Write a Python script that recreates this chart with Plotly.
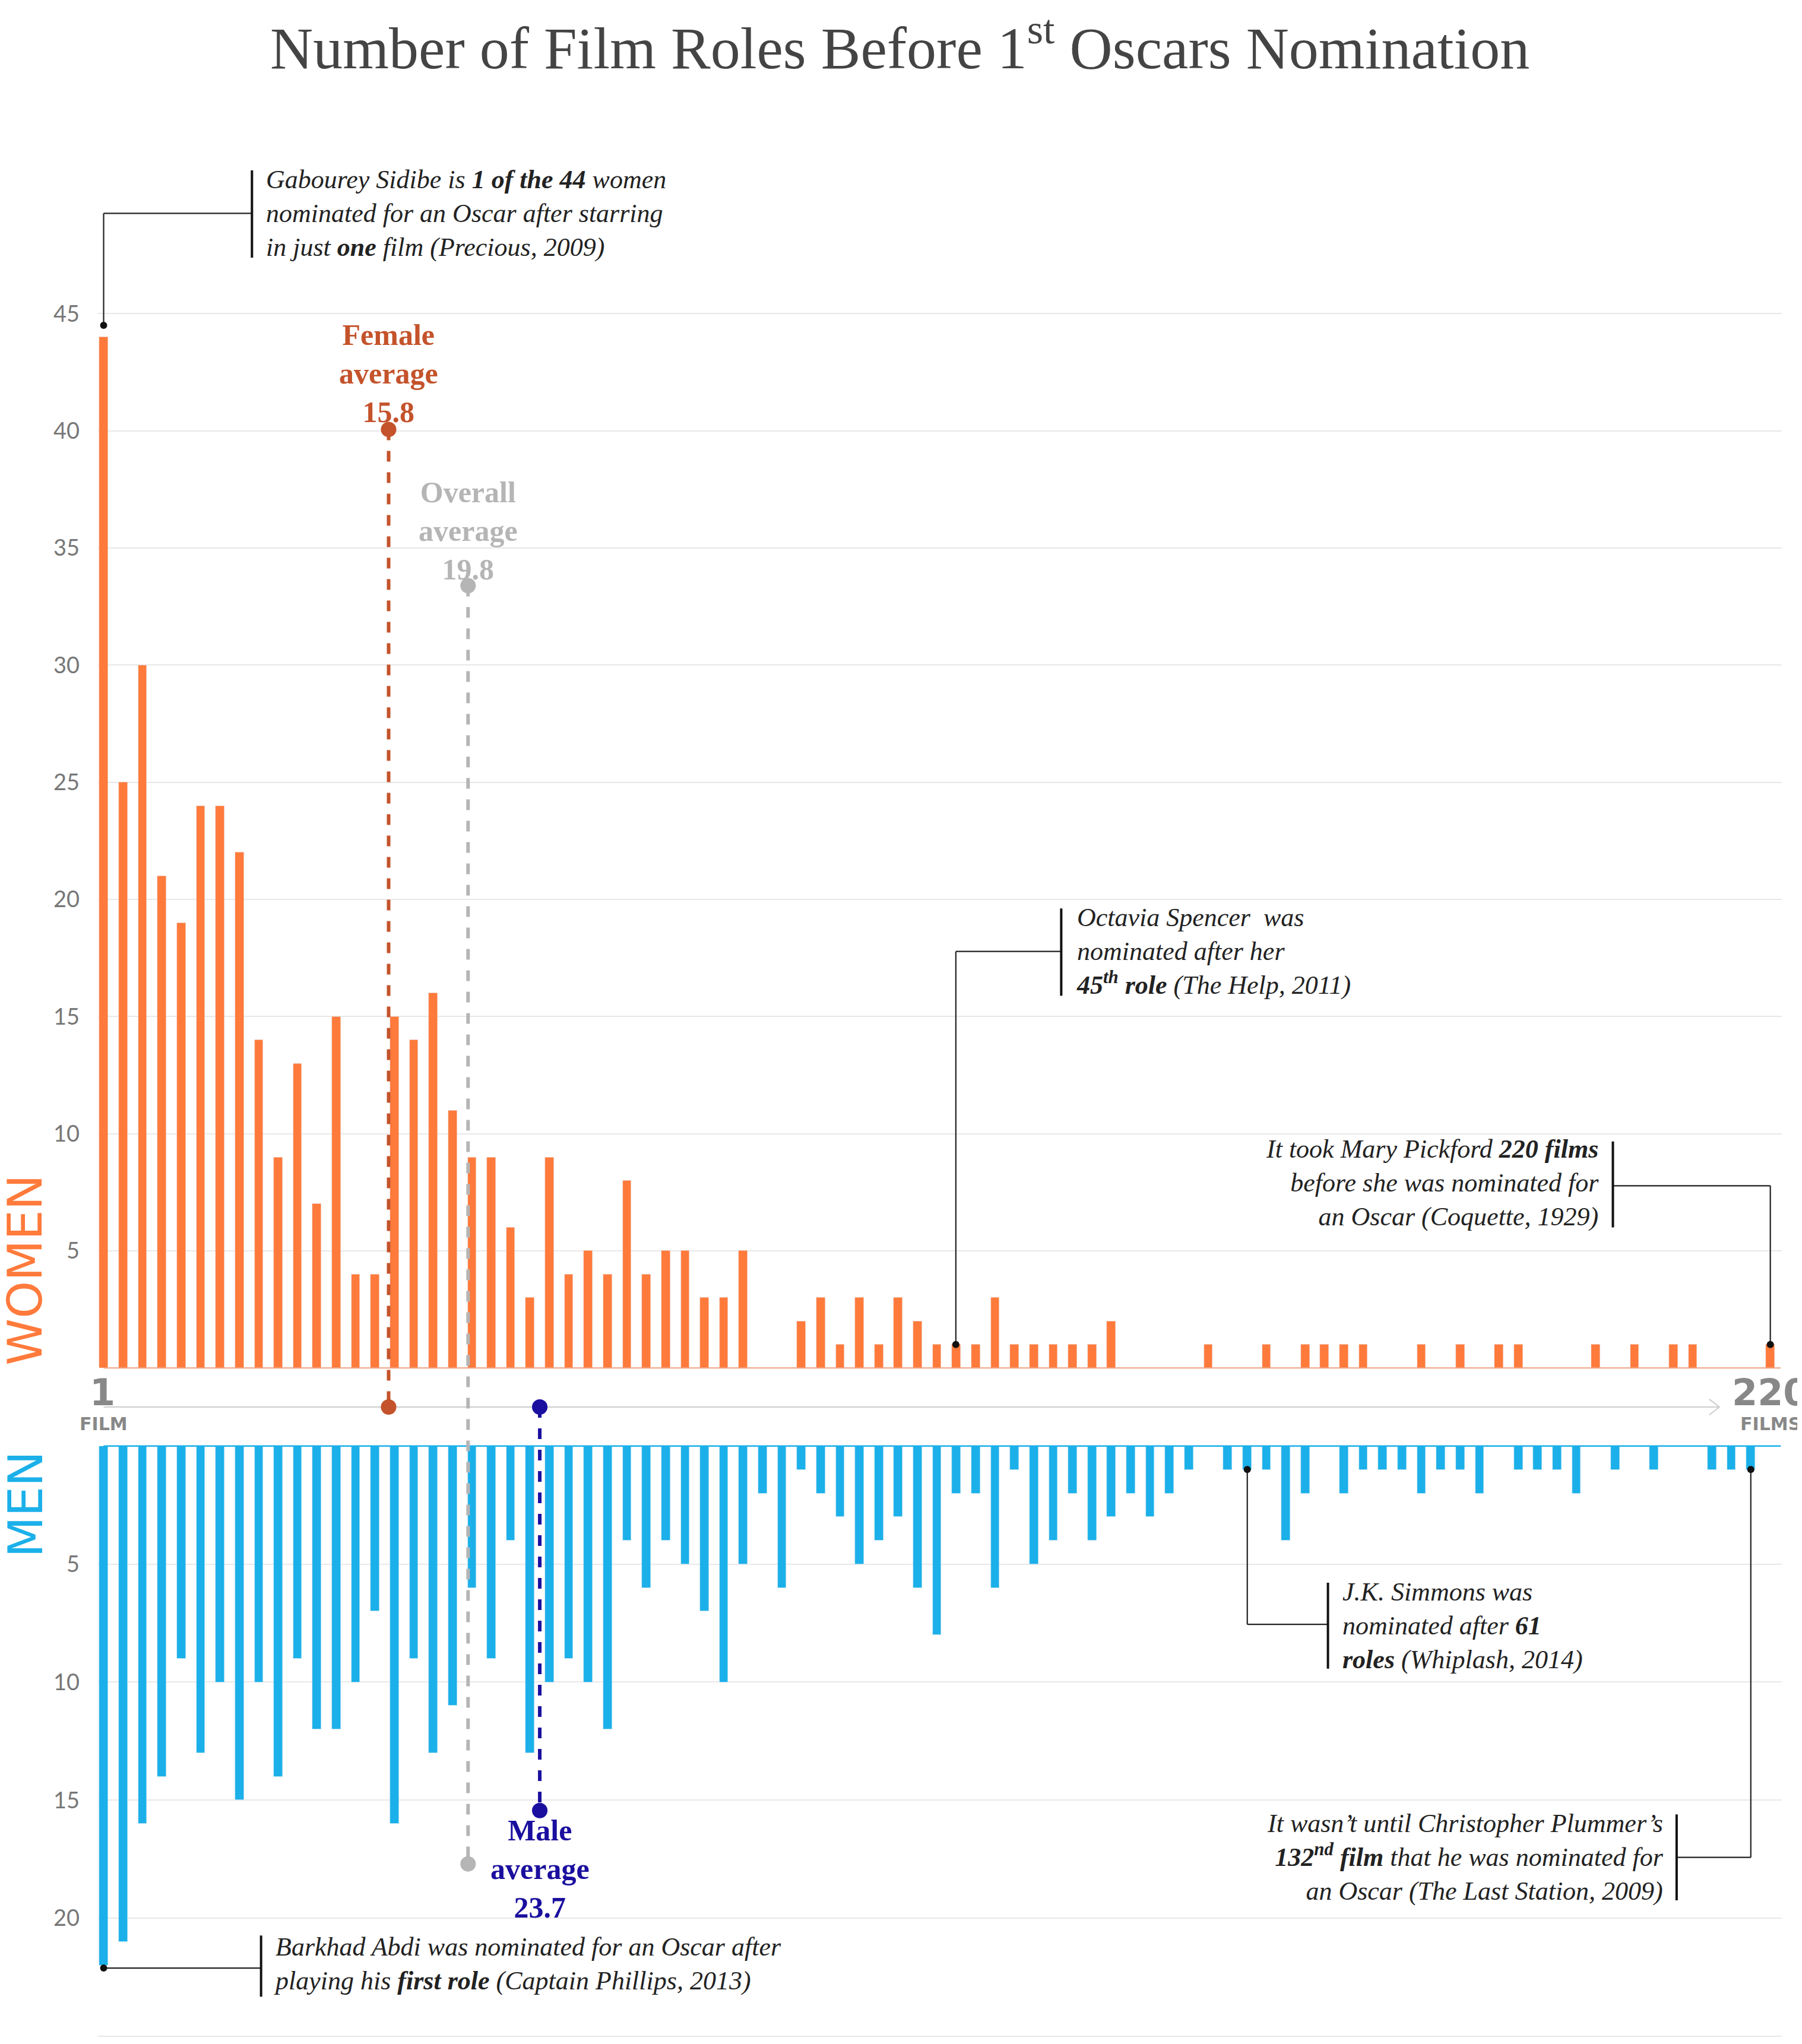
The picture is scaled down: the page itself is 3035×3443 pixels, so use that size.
import plotly.graph_objects as go

W, H = 3035, 3443
SX, SY = 3035/1385, 3443/1568
ML, MR = 157, 42

women_slots = list(range(0, 34)) + [36,37,38,39,40,41,42,43,44,45,46,47,48,49,50,51,52,57,60,62,63,64,65,68,70,72,73,77,79,81,82,86]
women_vals = [44,25,30,21,19,24,24,22,14,9,13,7,15,4,4,15,14,16,11,9,9,6,3,9,4,5,4,8,4,5,5,3,3,5,
              2,3,1,3,1,3,2,1,1,1,3,1,1,1,1,1,2,1,1,1,1,1,1,1,1,1,1,1,1,1,1,1]
men_slots = list(range(0, 57)) + [58,59,60,61,62,64,65,66,67,68,69,70,71,73,74,75,76,78,80,83,84,85]
men_vals = [22,21,16,14,9,13,10,15,10,14,9,12,12,10,7,16,9,13,11,6,9,4,13,10,9,10,12,4,6,4,5,7,10,5,2,6,1,2,3,5,4,3,6,8,2,2,6,1,5,4,2,4,3,2,3,2,1,
            1,1,1,4,2,2,1,1,1,2,1,1,2,1,1,1,2,1,1,1,1,1]
women_ticks = [5,10,15,20,25,30,35,40,45]
men_ticks = [5,10,15,20,25]
averages = [("Female<br>average<br>15.8", 14.7, "#C4532B"), ("Overall<br>average<br>19.8", 18.8, "#B5B5B5"), ("Male<br>average<br>23.7", 22.5, "#1A0F9E")]

ORANGE, BLUE = "#FF7A3B", "#1BB0E9"
FONT = "Liberation Serif"

def px(x): return (x*SX - ML)/(W - ML - MR)
def py(y): return 1 - y*SY/H

fig = go.Figure()
fig.add_bar(x=women_slots, y=women_vals, marker_color=ORANGE, width=0.45, xaxis="x", yaxis="y")
fig.add_bar(x=men_slots, y=men_vals, marker_color=BLUE, width=0.45, xaxis="x2", yaxis="y2")

xr = [-0.3, 86.6]
ax = dict(range=xr, showgrid=False, zeroline=False, showticklabels=False, domain=[0,1])
ygrid = dict(showgrid=True, gridcolor="#E8E8E8", gridwidth=2, zeroline=False, ticks="",
             tickfont=dict(family="Lato", size=38, color="#777"), ticklabelstandoff=30)
fig.update_layout(
    width=W, height=H, margin=dict(l=ML, r=MR, t=0, b=0), showlegend=False,
    plot_bgcolor="white", paper_bgcolor="white", bargap=0,
    xaxis=ax, xaxis2=dict(ax, anchor="y2"),
    yaxis=dict(ygrid, domain=[py(1045), py(226)], range=[0, 45.5], tickvals=women_ticks),
    yaxis2=dict(ygrid, domain=[py(1562), py(1105)], range=[25.2, 0], tickvals=men_ticks, anchor="x2"),
)

shapes, anns = [], []
def line(x0,y0,x1,y1,color="#222",w=2.2,dash=None):
    shapes.append(dict(type="line", xref="paper", yref="paper", x0=px(x0), y0=py(y0), x1=px(x1), y1=py(y1),
                       line=dict(color=color, width=w, dash=dash)))
PW = W - ML - MR
def dot(x,y,color="#111",r=6):
    shapes.append(dict(type="circle", xref="paper", yref="paper", x0=px(x)-r/PW, x1=px(x)+r/PW, y0=py(y)-r/H, y1=py(y)+r/H,
                       fillcolor=color, line=dict(width=0)))
def text(x,y,t,align="left",size=44,color="#222",xanchor=None,font=FONT,**kw):
    anns.append(dict(xref="paper", yref="paper", x=px(x), y=py(y), text=t, showarrow=False, align=align,
                     xanchor=xanchor or align, yanchor="middle", font=dict(family=font, size=size, color=color), **kw))

line(76,1045,1365,1045,"#F0A080",2)
line(76,1105,1365,1105,BLUE,2.5)
line(76,1075,1318,1075,"#CCCCCC",2)
line(1310,1069,1318,1075,"#CCCCCC",2); line(1310,1081,1318,1075,"#CCCCCC",2)
text(75,1064,"<b>1</b>","center",62,"#888",font="DejaVu Sans")
text(76,1088,"<b>FILM</b>","center",30,"#888",font="DejaVu Sans")
text(1357,1064,"<b>220</b>","center",62,"#888",font="DejaVu Sans")
text(1357,1088,"<b>FILMS</b>","center",30,"#888",font="DejaVu Sans")
text(16,970,"WOMEN","center",80,ORANGE,textangle=-90,font="DejaVu Sans")
text(16,1150,"MEN","center",80,BLUE,textangle=-90,font="DejaVu Sans")

for (lab, xs, col), (ytop, ybot, ylab) in zip(averages, [(324,1075,281),(444,1426,402),(1075,1385,1430)]):
    shapes.append(dict(type="line", xref="x", yref="paper", x0=xs, x1=xs, y0=py(ytop), y1=py(ybot),
                       line=dict(color=col, width=6, dash="dash")))
    for yy in (ytop, ybot):
        shapes.append(dict(type="circle", xref="x", yref="paper", x0=xs-0.4, x1=xs+0.4, y0=py(yy)-13/H, y1=py(yy)+13/H,
                           fillcolor=col, line=dict(width=0)))
    anns.append(dict(xref="x", yref="paper", x=xs, y=py(ylab), text="<b>"+lab+"</b>", showarrow=False,
                     font=dict(family=FONT, size=50, color=col), yanchor="middle"))

line(76,244,76,158); line(76,158,190,158); dot(76,244); line(190,125,190,192,"#111",4)
text(200,158,"<i>Gabourey Sidibe is <b>1 of the 44</b> women<br>nominated for an Oscar after starring<br>in just <b>one</b> film (Precious, 2009)</i>")
line(731,1027,731,725); line(731,725,812,725); dot(731,1027); line(812,692,812,759,"#111",4)
text(823,725,"<i>Octavia Spencer  was<br>nominated after her<br><b>45<sup>th</sup> role</b> (The Help, 2011)</i>")
line(1236,905,1357,905); line(1357,905,1357,1027); dot(1357,1027); line(1236,871,1236,937,"#111",4)
text(1226,903,"<i>It took Mary Pickford <b>220 films</b><br>before she was nominated for<br>an Oscar (Coquette, 1929)</i>","right")
line(955,1123,955,1242); line(955,1242,1017,1242); dot(955,1123); line(1017,1210,1017,1276,"#111",4)
text(1027,1243,"<i>J.K. Simmons was<br>nominated after <b>61</b><br><b>roles</b> (Whiplash, 2014)</i>")
line(1342,1123,1342,1421); line(1285,1421,1342,1421); dot(1342,1123); line(1285,1388,1285,1454,"#111",4)
text(1276,1421,"<i>It wasn’t until Christopher Plummer’s<br><b>132<sup>nd</sup> film</b> that he was nominated for<br>an Oscar (The Last Station, 2009)</i>","right")
line(76,1506,197,1506); dot(76,1506); line(197,1481,197,1528,"#111",4)
text(206,1503,"<i>Barkhad Abdi was nominated for an Oscar after<br>playing his <b>first role</b> (Captain Phillips, 2013)</i>")

text(688,28,"Number of Film Roles Before 1<sup>st</sup> Oscars Nomination","center",100,"#444",xanchor="center")
fig.update_layout(shapes=shapes, annotations=anns)
fig.write_html("out.html")
